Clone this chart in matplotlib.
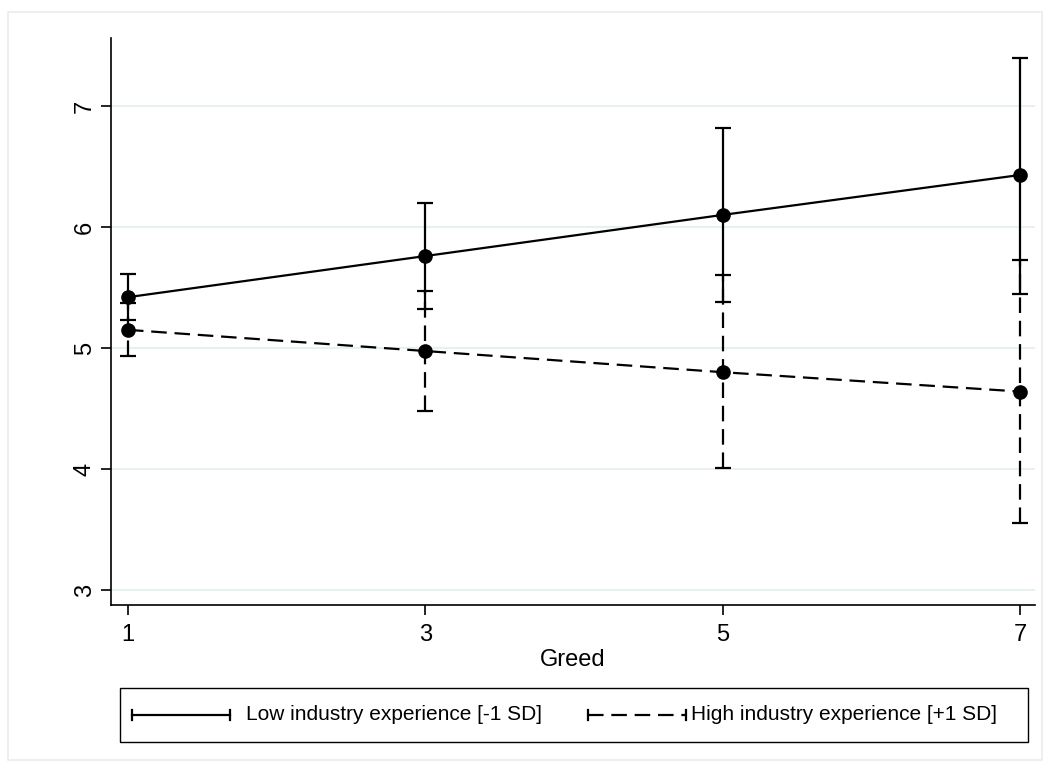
import matplotlib
matplotlib.use("Agg")
import matplotlib.pyplot as plt
from matplotlib.patches import Rectangle
from matplotlib.lines import Line2D

plt.rcParams['font.family'] = ['Liberation Sans', 'DejaVu Sans']

# ---- data ----
greed = [1, 3, 5, 7]
low_mean = [5.42, 5.76, 6.10, 6.43]
low_lo = [5.23, 5.32, 5.38, 5.45]
low_hi = [5.61, 6.20, 6.82, 7.40]
high_mean = [5.15, 4.975, 4.80, 4.64]
high_lo = [4.93, 4.48, 4.01, 3.55]
high_hi = [5.37, 5.47, 5.60, 5.73]
xticks = [1, 3, 5, 7]
yticks = [3, 4, 5, 6, 7]
series_labels = ["Low industry experience [-1 SD]", "High industry experience [+1 SD]"]
xlabel = "Greed"

W, H = 1050, 769
fig = plt.figure(figsize=(W / 100, H / 100), dpi=100)
fig.patch.set_facecolor('white')

def fx(px):
    return px / W

def fy(py):
    return 1 - py / H

# outer frame
fig.add_artist(Rectangle((fx(8), fy(760)), fx(1042) - fx(8), fy(12) - fy(760),
                         transform=fig.transFigure, fill=False,
                         edgecolor='#e6eef0', linewidth=1.2))

ax = fig.add_axes([fx(111), fy(605), fx(1035) - fx(111), fy(38) - fy(605)])
ax.set_xlim(0.886, 7.10)
ax.set_ylim(2.876, 7.562)
ax.spines['top'].set_visible(False)
ax.spines['right'].set_visible(False)
for s in ['left', 'bottom']:
    ax.spines[s].set_linewidth(1.2)
ax.set_xticks(xticks)
ax.set_yticks(yticks)
ax.set_xticklabels([str(t) for t in xticks], fontsize=17)
ax.set_yticklabels([str(t) for t in yticks], fontsize=17, rotation=90, va='center')
ax.tick_params(axis='both', length=7, width=1.2, color='black')
ax.tick_params(axis='x', pad=7)
ax.tick_params(axis='y', pad=4)
for y in yticks:
    ax.axhline(y, color='#e8f0f2', linewidth=1.5, zorder=0)
ax.set_xlabel(xlabel, fontsize=17, labelpad=2)

lw = 1.6
dash = (0, (7, 3.5))

# low series (solid)
low_err = [[m - l for m, l in zip(low_mean, low_lo)], [h - m for m, h in zip(low_mean, low_hi)]]
ax.errorbar(greed, low_mean, yerr=low_err, fmt='o', color='black', ms=9.5,
            elinewidth=lw, capsize=6, capthick=lw, zorder=3)
ax.plot(greed, low_mean, color='black', linewidth=lw, zorder=3)

# high series (dashed)
high_err = [[m - l for m, l in zip(high_mean, high_lo)], [h - m for m, h in zip(high_mean, high_hi)]]
eb = ax.errorbar(greed, high_mean, yerr=high_err, fmt='o', color='black', ms=9.5,
                 elinewidth=lw, capsize=6, capthick=lw, zorder=3)
for coll in eb[2]:
    coll.set_linestyle(dash)
ax.plot(greed, high_mean, color='black', linewidth=lw, linestyle=dash, zorder=3)

# ---- legend (drawn in pixel coordinates on an overlay axes) ----
lax = fig.add_axes([0, 0, 1, 1])
lax.set_xlim(0, W)
lax.set_ylim(H, 0)
lax.axis('off')
lax.add_patch(Rectangle((120, 688), 908, 54, fill=False, edgecolor='black', linewidth=1.0))
ly = 715
# solid handle
lax.add_line(Line2D([132, 230], [ly, ly], color='black', linewidth=lw))
lax.add_line(Line2D([132, 132], [ly - 5, ly + 5], color='black', linewidth=lw))
lax.add_line(Line2D([230, 230], [ly - 5, ly + 5], color='black', linewidth=lw))
lax.text(246, ly, series_labels[0], fontsize=15, va='center', ha='left')
# dashed handle
lax.add_line(Line2D([588, 686], [ly, ly], color='black', linewidth=lw, linestyle=dash))
lax.add_line(Line2D([588, 588], [ly - 5, ly + 5], color='black', linewidth=lw))
lax.add_line(Line2D([686, 686], [ly - 5, ly + 5], color='black', linewidth=lw))
lax.text(691, ly, series_labels[1], fontsize=15, va='center', ha='left')

fig.savefig('out.png', dpi=100, facecolor='white')
